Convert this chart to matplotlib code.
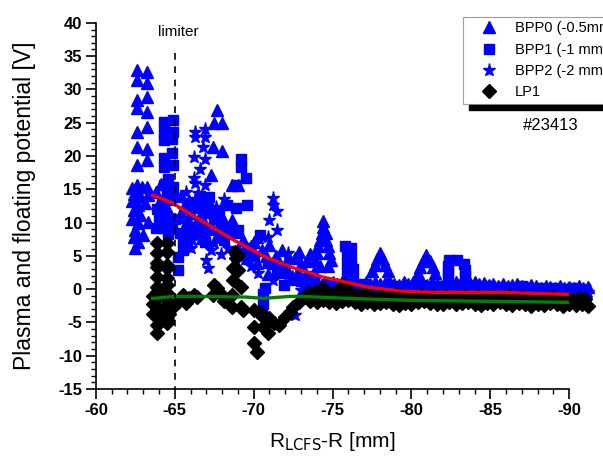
import matplotlib
matplotlib.use("Agg")
import matplotlib.pyplot as plt
from matplotlib.patches import Rectangle

plt.rcParams['font.family'] = ['Liberation Sans', 'DejaVu Sans']
plt.rcParams['axes.unicode_minus'] = False

# ---- BPP0 (-0.5mm), triangles ----
# tall columns left of the limiter
bpp0_a_x = [-62.6, -62.6, -62.6, -62.6, -62.6, -62.6, -62.6, -62.6,
            -63.25, -63.25, -63.25, -63.25, -63.25, -63.25, -63.25, -63.25,
            -62.3, -62.9, -62.4, -62.8, -63.3, -62.3, -62.7, -63.1, -62.4, -62.8,
            -62.3, -62.7, -63.3, -62.5, -62.4, -62.7, -62.5, -63.0, -63.8, -64.1]
bpp0_a_y = [32.9, 31.4, 28.4, 27.2, 23.6, 21.4, 18.6, 15.6,
            32.6, 31.0, 28.9, 26.6, 24.4, 21.1, 19.4, 15.3,
            15.2, 15.4, 14.3, 14.0, 14.2, 13.2, 12.6, 13.0, 11.9, 11.2,
            10.6, 9.9, 10.1, 8.9, 7.8, 7.0, 6.1, 8.1, 14.6, 15.8]
# cloud behind the limiter
bpp0_b_x = [-67.7, -67.5, -68.0, -67.4, -68.0, -67.3, -67.2, -68.6, -69.0, -68.6,
            -64.0, -64.5, -64.2, -64.7, -64.3, -65.6, -66.0, -65.8, -66.3, -66.6,
            -66.9, -66.2, -67.4, -67.7, -65.7, -66.7, -68.2, -68.9, -69.3, -69.8,
            -70.2, -70.5, -71.0, -71.4, -71.8, -72.2, -72.6, -73.0, -73.4, -72.8,
            -71.6, -70.2, -69.6, -64.6, -65.4, -65.9, -66.4, -67.1, -67.6, -68.0,
            -65.5, -66.0, -69.0, -69.5, -70.0, -70.8, -71.3, -71.9, -72.4, -73.2,
            -73.8, -73.6, -72.9, -70.9]
bpp0_b_y = [26.9, 25.0, 25.0, 21.3, 20.8, 17.1, 13.1, 15.6, 15.6, 10.4,
            13.0, 12.2, 11.0, 10.2, 9.4, 12.4, 11.5, 10.3, 9.6, 11.0,
            9.8, 8.4, 9.0, 8.0, 8.8, 7.6, 9.2, 8.6, 7.4, 6.5,
            7.8, 5.9, 6.6, 5.0, 5.8, 4.7, 4.7, 3.7, 4.2, 2.6,
            3.2, 3.9, 4.6, 13.6, 14.0, 13.2, 12.6, 12.3, 11.0, 10.8,
            10.9, 9.4, 6.0, 5.2, 7.0, 4.9, 3.9, 2.5, 2.0, 1.7,
            2.5, 5.3, 5.6, 2.2]
# three stacked peaks in the SOL
bpp0_c_x = [-74.4, -74.4, -74.3, -74.6, -74.2, -74.6, -74.1, -74.7, -74.0, -74.8,
            -73.9, -74.9, -74.2, -74.7,
            -78.0, -77.8, -78.2, -77.7, -78.3, -77.5, -78.5,
            -80.95, -80.75, -81.15, -80.55, -81.35, -80.4, -81.5]
bpp0_c_y = [10.2, 9.3, 8.4, 8.4, 7.4, 7.4, 6.4, 6.4, 5.4, 5.4,
            4.4, 4.4, 3.4, 3.4,
            5.4, 4.5, 4.5, 3.6, 3.6, 2.7, 2.7,
            5.1, 4.2, 4.2, 3.3, 3.3, 2.4, 2.4]
# far SOL band
bpp0_d_x = [-75.0, -75.3, -75.6, -75.9, -76.2, -76.5, -76.8, -77.1, -77.4, -77.7,
            -78.0, -78.3, -78.6, -78.9, -79.2, -79.5, -79.8, -80.1, -80.4, -80.7,
            -81.0, -81.3, -81.6, -81.9, -82.2, -82.5, -82.8, -83.1, -83.4, -83.7,
            -84.0, -84.3, -84.6, -84.9, -85.2, -85.5, -85.8, -86.1, -86.4, -86.7,
            -87.0, -87.3, -87.6, -87.9, -88.2, -88.5, -88.8, -89.1, -89.4, -89.7,
            -90.0, -90.3, -90.6, -90.9, -91.2]
bpp0_d_y = [1.1, 0.7, 1.0, 0.8, 1.2, 0.9, 0.6, 1.0, 0.8, 1.1,
            0.7, 0.9, 1.2, 0.8, 0.6, 1.0, 0.8, 1.1, 0.7, 0.9,
            0.6, 1.0, 0.8, 0.5, 0.9, 0.7, 1.0, 0.8, 0.6, 0.9,
            1.0, 0.7, 0.9, 0.6, 0.8, 0.5, 0.7, 0.4, 0.6, 0.8,
            0.5, 0.3, 0.6, 0.4, 0.2, 0.5, 0.3, 0.1, 0.4, 0.2,
            0.3, 0.1, 0.4, 0.2, 0.3]

# ---- BPP1 (-1 mm), squares ----
bpp1_a_x = [-64.3, -64.9, -64.3, -64.9, -64.3, -64.8, -64.8, -64.3, -64.9, -64.3,
            -64.6, -64.3, -64.9, -64.5, -64.9, -64.2,
            -69.2, -69.2, -69.5, -68.9, -69.6, -68.9, -69.0, -68.5, -68.1, -70.4,
            -65.5, -65.5, -65.2, -65.2, -64.8, -65.0, -63.9, -64.4,
            -65.8, -66.2, -66.8, -67.0, -67.5, -65.9, -66.5, -67.8, -69.6, -70.0,
            -70.9, -71.5, -70.7, -71.9, -72.6, -70.6, -70.6, -70.5, -73.5, -72.0,
            -64.0, -64.6, -63.8, -66.6, -67.2, -68.3, -67.9, -65.3, -66.9]
bpp1_a_y = [25.1, 25.4, 23.5, 23.6, 22.4, 22.6, 20.5, 19.7, 18.7, 18.3,
            16.6, 15.6, 15.3, 14.3, 13.8, 13.2,
            19.6, 18.4, 16.7, 15.6, 12.6, 12.2, 8.9, 8.9, 7.4, 8.1,
            7.1, 5.9, 4.8, 2.9, 9.0, 10.5, 12.0, 11.0,
            13.0, 12.2, 12.8, 11.5, 10.5, 9.3, 8.9, 11.7, 6.1, 5.0,
            3.9, 2.6, 0.2, 0.6, 1.4, -0.8, -2.3, -3.6, 2.0, 2.8,
            10.5, 8.3, 9.2, 14.0, 13.8, 12.7, 9.6, 8.4, 7.0]
bpp1_c_x = [-75.8, -76.2, -75.9, -76.2, -75.9, -76.3, -75.9, -76.3,
            -82.4, -82.9, -83.3, -82.3, -83.4, -82.3, -83.4, -82.3]
bpp1_c_y = [6.4, 6.2, 5.3, 4.5, 3.7, 3.0, 2.3, 1.7,
            4.4, 4.4, 3.7, 3.5, 2.8, 2.6, 1.9, 1.8]
bpp1_d_x = [-73.0, -73.4, -73.8, -74.2, -74.6, -75.0, -75.4, -75.8, -76.2, -76.6,
            -77.0, -77.4, -77.8, -78.2, -78.6, -79.0, -79.4, -79.8, -80.2, -80.6,
            -81.0, -81.4, -81.8, -82.2, -82.6, -83.0, -83.4, -83.8, -84.2, -84.6,
            -85.0, -85.4, -85.8, -86.2, -86.6, -87.0, -87.4, -87.8, -88.2, -88.6,
            -89.0, -89.4, -89.8, -90.2, -90.6, -91.0]
bpp1_d_y = [1.2, 0.6, 0.9, 0.4, 0.7, 0.5, 0.8, 0.3, 0.6, 0.4,
            0.7, 0.3, 0.5, 0.2, 0.6, 0.4, 0.1, 0.5, 0.3, 0.6,
            0.2, 0.4, 0.1, 0.5, 0.3, 0.6, 0.2, 0.4, 0.5, 0.2,
            0.4, 0.1, 0.3, 0.0, 0.2, 0.4, 0.1, -0.1, 0.2, 0.0,
            0.1, -0.2, 0.0, 0.1, -0.1, 0.0]

# ---- BPP2 (-2 mm), stars ----
bpp2_a_x = [-66.3, -66.9, -66.3, -66.9, -66.8, -66.2, -66.9, -66.6, -66.2, -66.3,
            -66.9, -66.5, -66.3, -66.8,
            -71.2, -71.2, -71.5, -71.0, -71.5, -70.9,
            -67.3, -67.0, -67.1, -72.2, -73.0, -72.6,
            -65.5, -65.9, -66.5, -67.0, -66.1, -67.5, -65.7, -68.4, -69.8, -70.3,
            -71.2, -72.0, -73.5, -68.8, -67.6, -68.1, -65.7, -66.0, -67.9]
bpp2_a_y = [23.6, 24.1, 22.9, 22.9, 21.4, 19.9, 19.5, 18.0, 16.7, 15.9,
            15.6, 14.4, 13.5, 13.1,
            13.7, 12.6, 11.7, 10.4, 8.9, 7.8,
            5.9, 4.4, 3.2, 5.4, -0.2, -3.9,
            12.0, 10.6, 9.6, 8.5, 7.4, 6.9, 8.0, 6.2, 3.4, 2.4,
            1.4, 0.6, 0.9, 4.9, 12.4, 13.6, 14.6, 6.1, 5.2]
bpp2_d_x = [-73.2, -73.6, -74.0, -74.4, -74.8, -75.2, -75.6, -76.0, -76.4, -76.8,
            -77.2, -77.6, -78.0, -78.4, -78.8, -79.2, -79.6, -80.0, -80.4, -80.8,
            -81.2, -81.6, -82.0, -82.4, -82.8, -83.2, -83.6, -84.0, -84.4, -84.8,
            -85.2, -85.6, -86.0, -86.4, -86.8, -87.2, -87.6, -88.0, -88.4, -88.8,
            -89.2, -89.6, -90.0, -90.4, -90.8, -91.2]
bpp2_d_y = [-0.2, 0.1, -0.3, 0.0, -0.4, -0.1, -0.3, 0.1, -0.2, -0.4,
            0.0, -0.3, -0.1, -0.4, -0.2, -0.5, -0.2, -0.4, -0.1, -0.5,
            -0.3, -0.5, -0.2, -0.6, -0.4, -0.3, -0.5, -0.2, -0.4, -0.6,
            -0.3, -0.5, -0.4, -0.6, -0.3, -0.5, -0.7, -0.4, -0.6, -0.5,
            -0.7, -0.4, -0.6, -0.5, -0.7, -0.5]

# ---- LP1, diamonds ----
lp1_a_x = [-63.9, -63.9, -63.9, -63.9, -63.9, -63.9, -63.9, -63.9, -63.9, -63.9,
           -63.9, -63.9, -63.9,
           -64.5, -64.5, -64.5, -64.5, -64.5, -64.5, -64.5, -64.5, -64.5, -64.5,
           -64.5, -64.5, -64.5,
           -63.6, -63.6, -63.6, -64.9, -64.65, -65.2,
           -65.5, -65.9, -66.2, -65.7, -66.4, -67.5, -67.7, -67.4, -68.0, -68.6,
           -68.6, -69.2, -68.1,
           -68.8, -69.0, -68.9, -68.7, -69.0, -68.7, -69.2, -69.35,
           -70.0, -70.4, -70.6, -70.6, -70.9, -70.0, -70.2, -70.0, -71.3, -71.6,
           -72.0, -72.3, -72.5, -72.9, -73.2, -73.5, -71.0,
           -74.0, -74.4, -75.7, -75.4, -76.0]
lp1_a_y = [6.9, 5.4, 3.9, 3.3, 1.8, 0.3, -0.5, -1.4, -2.7, -3.2,
           -4.2, -5.4, -6.6,
           6.9, 5.6, 3.6, 3.2, 1.6, 0.6, -0.6, -1.6, -2.4, -3.6,
           -4.2, -4.7, -5.1,
           -1.0, -2.2, -3.8, -2.7, -3.8, -1.9,
           -0.9, -1.4, -0.9, -2.1, -1.2, 0.6, 0.2, -0.9, -0.9, -0.9,
           -2.7, -2.7, -1.8,
           5.6, 5.1, 4.7, 3.2, 2.9, 1.4, 0.3, -3.2,
           -3.2, -3.5, -4.2, -5.7, -6.6, -8.1, -9.5, -5.7, -5.1, -5.4,
           -4.2, -3.5, -2.7, -2.0, -1.2, -0.6, -4.4,
           -0.3, 0.1, 0.6, 0.0, 0.0]
lp1_up_x = [-73.8, -74.2, -74.6, -75.0, -75.4, -75.8, -76.2, -76.6, -77.0, -77.4,
            -77.8, -78.2, -78.6, -79.0, -79.4, -79.8, -80.2, -80.6, -81.0, -81.4,
            -81.8, -82.2, -82.6, -83.0, -83.4, -83.8, -84.2, -84.6, -85.0, -85.4,
            -85.8, -86.2, -86.6, -87.0, -87.4, -87.8, -88.2, -88.6, -89.0, -89.4,
            -89.8, -90.2, -90.6, -91.0]
lp1_up_y = [-0.8, -0.6, -0.9, -0.7, -1.0, -0.8, -1.1, -0.9, -0.7, -1.0,
            -1.2, -0.9, -1.1, -0.8, -1.0, -1.3, -1.1, -0.9, -1.2, -1.0,
            -1.3, -1.1, -1.4, -1.2, -1.0, -1.3, -1.1, -1.4, -1.2, -1.5,
            -1.3, -1.1, -1.4, -1.2, -1.5, -1.3, -1.6, -1.4, -1.2, -1.5,
            -1.3, -1.6, -1.4, -1.5]
lp1_lo_x = [-73.6, -74.0, -74.4, -74.8, -75.2, -75.6, -76.0, -76.4, -76.8, -77.2,
            -77.6, -78.0, -78.4, -78.8, -79.2, -79.6, -80.0, -80.4, -80.8, -81.2,
            -81.6, -82.0, -82.4, -82.8, -83.2, -83.6, -84.0, -84.4, -84.8, -85.2,
            -85.6, -86.0, -86.4, -86.8, -87.2, -87.6, -88.0, -88.4, -88.8, -89.2,
            -89.6, -90.0, -90.4, -90.8, -91.2]
lp1_lo_y = [-1.8, -2.0, -1.7, -1.9, -2.1, -1.8, -1.6, -1.9, -2.2, -2.0,
            -2.3, -2.1, -1.9, -2.2, -2.4, -2.1, -2.3, -2.0, -1.8, -2.1,
            -2.3, -2.2, -2.0, -2.3, -2.1, -1.9, -2.2, -2.4, -2.1, -2.3,
            -2.0, -2.2, -2.4, -2.1, -2.3, -2.5, -2.2, -2.4, -2.1, -2.3,
            -2.5, -2.2, -2.4, -2.3, -2.5]

# smoothed curves
red_x = [-63.6, -64.9, -65.35, -66.6, -68.7, -70.85, -72.5, -74.4, -76.1, -77.2,
         -79.3, -81.4, -85.6, -89.9]
red_y = [14.1, 12.9, 12.2, 10.4, 7.4, 4.7, 3.2, 1.8, 0.9, 0.3,
         -0.3, -0.5, -0.5, -0.8]
green_x = [-63.6, -65.0, -66.5, -69.5, -70.6, -72.3, -73.0, -75.0, -77.2, -80.0,
           -83.5, -87.0, -90.0]
green_y = [-1.4, -1.1, -1.1, -1.2, -1.4, -1.1, -1.1, -1.3, -1.5, -1.7,
           -1.8, -1.9, -2.0]

limiter = -65

bpp0_x = bpp0_a_x + bpp0_b_x + bpp0_c_x + bpp0_d_x
bpp0_y = bpp0_a_y + bpp0_b_y + bpp0_c_y + bpp0_d_y
bpp1_x = bpp1_a_x + bpp1_c_x + bpp1_d_x
bpp1_y = bpp1_a_y + bpp1_c_y + bpp1_d_y
bpp2_x = bpp2_a_x + bpp2_d_x
bpp2_y = bpp2_a_y + bpp2_d_y
lp1_x = lp1_a_x + lp1_up_x + lp1_lo_x
lp1_y = lp1_a_y + lp1_up_y + lp1_lo_y

fig = plt.figure(figsize=(6.03, 4.57), dpi=100)
ax = fig.add_axes([0.159, 0.149, 0.785, 0.801])

ax.plot(bpp0_x, bpp0_y, '^', color='#0000ff', ms=8.5, mec='#0000ff', clip_on=False, label='BPP0 (-0.5mm)')
ax.plot(bpp1_x, bpp1_y, 's', color='#0000ff', ms=6.5, mec='#0000ff', clip_on=False, label='BPP1 (-1 mm)')
ax.plot(bpp2_x, bpp2_y, '*', color='#0000ff', ms=9.5, mec='#0000ff', clip_on=False, label='BPP2 (-2 mm)')
ax.plot(lp1_x, lp1_y, 'D', color='black', ms=7, mec='black', clip_on=False, label='LP1')
ax.plot(red_x, red_y, '-', color='red', lw=2.4)
ax.plot(green_x, green_y, '-', color='green', lw=2.4)

ax.plot([limiter, limiter], [35.5, -15], '--', color='black', lw=1.2, dashes=(4, 4))
ax.text(limiter - 0.2, 38.7, 'limiter', ha='center', va='center', fontsize=11)

ax.set_xlim(-60, -90)
ax.set_ylim(-15, 40)
ax.set_xticks([-60, -65, -70, -75, -80, -85, -90])
ax.set_yticks(range(-15, 41, 5))
ax.set_xticks(range(-90, -59), minor=True)
ax.set_yticks(range(-15, 41), minor=True)
ax.spines['top'].set_visible(False)
ax.spines['right'].set_visible(False)
ax.spines['left'].set_linewidth(1.2)
ax.spines['bottom'].set_linewidth(1.2)
ax.tick_params(which='major', direction='out', length=7, width=1.2, labelsize=12, pad=3)
ax.tick_params(which='minor', direction='out', length=3.5, width=1)
for lab in ax.get_xticklabels() + ax.get_yticklabels():
    lab.set_fontweight('bold')

ax.set_xlabel('R$_{\\rm LCFS}$-R [mm]', fontsize=15, labelpad=9)
ax.set_ylabel('Plasma and floating potential [V]', fontsize=16.5, labelpad=16)

leg = ax.legend(loc='upper left', bbox_to_anchor=(463 / 603, 1 - 17 / 457),
                bbox_transform=fig.transFigure, fontsize=10.5, frameon=True,
                fancybox=False, borderaxespad=0, handletextpad=0.32,
                labelspacing=0.5, borderpad=0.3, handlelength=2.95)
leg.get_frame().set_edgecolor('#888888')
leg.get_frame().set_linewidth(0.8)

fig.patches.append(Rectangle((469 / 603, 1 - 110 / 457), 140 / 603, 5 / 457,
                             transform=fig.transFigure, color='black'))
fig.text(551 / 603, 1 - 125 / 457, '#23413', ha='center', va='center', fontsize=12)

fig.savefig('out.png', dpi=100)
